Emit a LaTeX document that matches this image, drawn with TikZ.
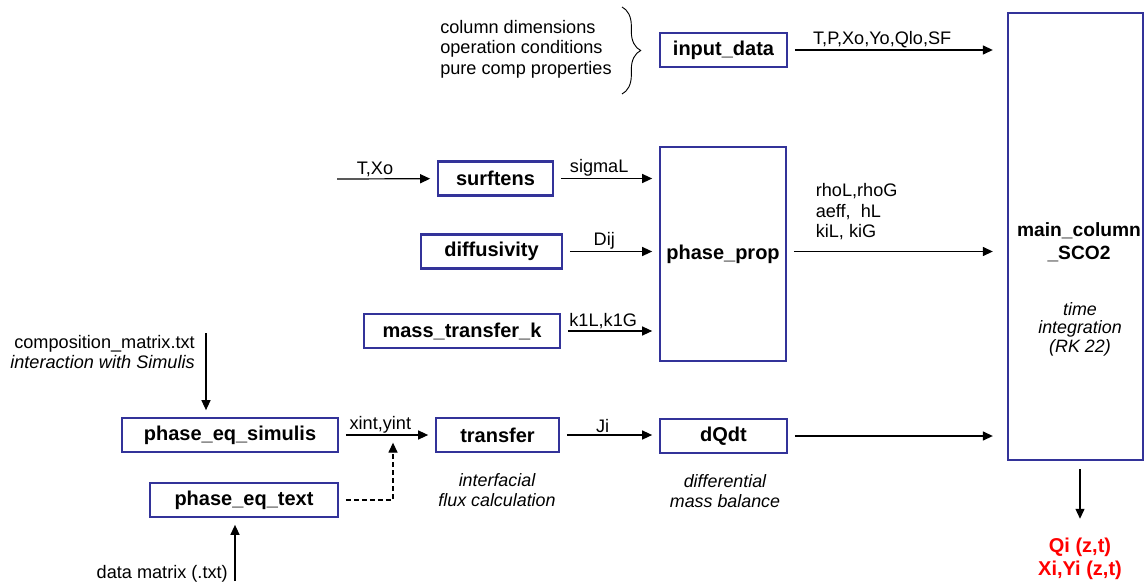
\documentclass[tikz,border=0pt]{standalone}
\usepackage{fontspec}
\setmainfont{Liberation Sans}
\usepackage{tikz}
\usetikzlibrary{arrows.meta,decorations.pathreplacing,positioning}
\definecolor{boxblue}{HTML}{333399}
\definecolor{outred}{HTML}{FF0000}

\begin{document}
\begin{tikzpicture}[x=0.75pt,y=-0.75pt,>={Triangle[length=7.5pt,width=6.8pt]},
  boldtxt/.style={font=\fontsize{15}{17}\selectfont\bfseries,align=center,inner sep=2pt},
  blk/.style={boldtxt,draw=boxblue,line width=1.8pt,minimum height=25.5pt},
  flow/.style={->,line width=0.9pt,shorten <=5pt,shorten >=5pt},
  tomain/.style={flow,shorten >=10.5pt},
  lab/.style={font=\fontsize{13.6}{15.4}\selectfont,inner sep=1pt},
  over/.style={lab,pos=.43,above},
  note/.style={font=\fontsize{13.4}{15.4}\selectfont\itshape,align=center,inner sep=0pt}]

  \useasboundingbox (0,0) rectangle (1144,581);
  \fill[white] (0,0) rectangle (1144,581);

  \node[lab,anchor=west,align=left,inner sep=0pt] (given) at (440,49)
    {column dimensions\\operation conditions\\pure comp properties};
  \draw[decorate,decoration={brace,amplitude=14pt},line width=0.7pt] (622,7)--(622,94);

  \node[blk,minimum width=95.25pt] (input) at (723.5,50) {input\_data};
  \node[blk,minimum width=86.25pt] (surf) at (495.5,178.5) {surftens};
  \node[blk,minimum width=105.75pt] (diff) at (491.5,251.5) {diffusivity};
  \node[blk,minimum width=147pt] (mtk) at (462,331) {mass\_transfer\_k};
  \node[blk,minimum width=94.5pt,minimum height=160.5pt] (prop) at (723,254) {phase\_prop};
  \node[blk,minimum width=101.25pt,minimum height=335.25pt] (main) at (1075.5,236.5) {};
  \node[boldtxt,font=\fontsize{14.4}{17.25}\selectfont\bfseries] (maintitle) at (1079,242.5) {main\_column\\\_SCO2};
  \node[note,font=\fontsize{13.4}{13.8}\selectfont\itshape] (mainnote) at (1080,329) {time\\integration\\(RK 22)};
  \node[blk,minimum width=162pt] (simulis) at (230,435) {phase\_eq\_simulis};
  \node[blk,minimum width=141pt] (eqtext) at (244,500) {phase\_eq\_text};
  \node[blk,minimum width=92.25pt] (transfer) at (497.5,435) {transfer};
  \node[blk,minimum width=95.25pt] (dqdt) at (723.5,436) {dQdt};
  \node[note] (transnote) at (497,490) {interfacial\\flux calculation};
  \node[note] (dqdtnote) at (725,491) {differential\\mass balance};
  \node[boldtxt,text=outred,font=\fontsize{15}{17.25}\selectfont\bfseries] (result) at (1080,558.5) {Qi (z,t)\\Xi,Yi (z,t)};

  \node[lab,anchor=east,align=right,inner sep=0pt] (compfile) at (195,352)
    {composition\_matrix.txt\\\textit{interaction with Simulis}};
  \node[lab,anchor=east,inner sep=0pt] (datafile) at (228,574) {data matrix (.txt)};
  \coordinate (tin) at (337,179);
  \coordinate (compin) at (206,333);
  \coordinate (datain) at (235,581);
  \coordinate (xjoin) at (393,436);

  \draw[flow,shorten <=0pt] (tin) -- (surf) node[lab,pos=.38,above] {T,Xo};
  \draw[flow] (surf.east) -- (surf.east -| prop.west) node[over] {sigmaL};
  \draw[flow] (diff.east) -- (diff.east -| prop.west) node[over] {Dij};
  \draw[flow] (mtk.east) -- (mtk.east -| prop.west) node[over] {k1L,k1G};
  \draw[tomain] (input.east) -- (input.east -| main.west) node[over] {T,P,Xo,Yo,Qlo,SF};
  \draw[tomain] (diff -| prop.east) -- (diff -| main.west)
    node[lab,pos=0,anchor=west,align=left,inner sep=0pt,xshift=21pt,yshift=29.6pt]
    {rhoL,rhoG\\aeff,\ \ hL\\kiL, kiG};
  \draw[tomain] (dqdt.east) -- (dqdt.east -| main.west);
  \draw[flow] (transfer.east) -- (transfer.east -| dqdt.west) node[over] {Ji};
  \draw[flow] (simulis.east) -- (simulis.east -| transfer.west) node[over] {xint,yint};
  \draw[flow,dash pattern=on 3.5pt off 2.5pt] (eqtext.east) -| (xjoin);
  \draw[flow,shorten <=0pt] (compin) -- (compin |- simulis.north);
  \draw[flow,shorten <=0pt] (datain) -- (datain |- eqtext.south);
  \draw[flow,shorten <=6pt,shorten >=12pt] (main.south -| result.north) -- (result.north);
\end{tikzpicture}
\end{document}
